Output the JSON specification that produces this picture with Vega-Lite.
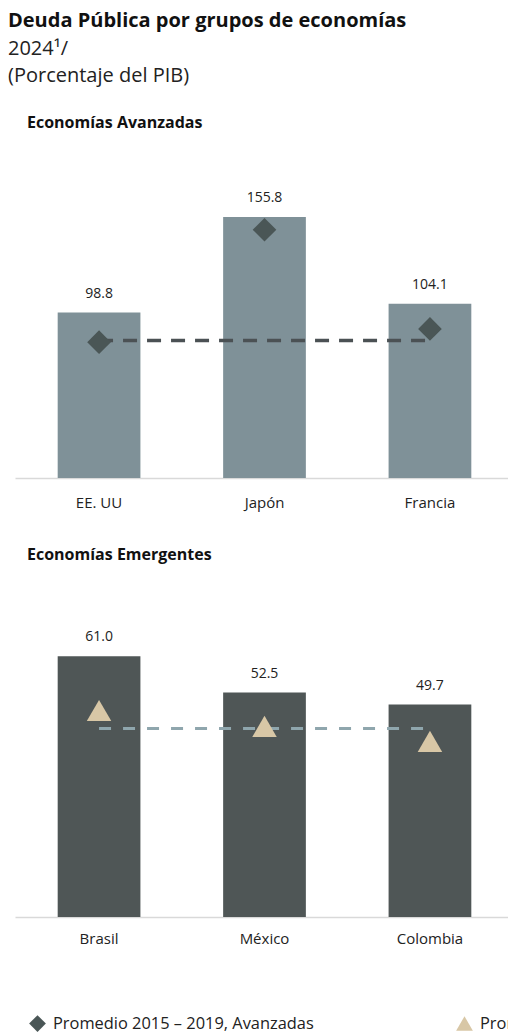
{
  "$schema": "https://vega.github.io/schema/vega-lite/v6.json",
  "background": "white",
  "padding": {"left": 8, "top": 11, "right": 0, "bottom": 2},
  "config": {
    "view": {"stroke": null},
    "font": "Open Sans",
    "axis": {"labelFont": "Open Sans"},
    "legend": {"labelFont": "Open Sans"}
  },
  "title": {
    "text": "Deuda Pública por grupos de economías",
    "subtitle": ["2024¹/", "(Porcentaje del PIB)"],
    "anchor": "start",
    "dx": -7,
    "font": "Open Sans",
    "fontSize": 20,
    "fontWeight": "bold",
    "color": "#111111",
    "subtitleFont": "Open Sans",
    "subtitleFontSize": 20,
    "subtitleColor": "#222222",
    "subtitleLineHeight": 27,
    "subtitlePadding": 8,
    "offset": 29
  },
  "spacing": 37,
  "resolve": {"scale": {"x": "independent", "y": "independent", "shape": "independent", "color": "independent"}},
  "vconcat": [
    {
      "width": 499,
      "height": 335,
      "title": {"text": "Economías Avanzadas", "anchor": "start", "dx": 12, "fontSize": 16, "fontWeight": "bold", "color": "#111111", "offset": 12},
      "data": {"values": [
        {"pais": "EE. UU", "deuda": 98.8, "promedio": 81.1, "linea": 82.1, "serie": "Promedio 2015 – 2019, Avanzadas"},
        {"pais": "Japón", "deuda": 155.8, "promedio": 148.2, "linea": 82.1, "serie": "Promedio 2015 – 2019, Avanzadas"},
        {"pais": "Francia", "deuda": 104.1, "promedio": 89.0, "linea": 82.1, "serie": "Promedio 2015 – 2019, Avanzadas"}
      ]},
      "encoding": {
        "x": {"field": "pais", "type": "nominal", "sort": null,
          "scale": {"paddingInner": 0.5, "paddingOuter": 0.258},
          "axis": {"title": null, "labelAngle": 0, "ticks": false, "domainColor": "#d9d9d9", "domainWidth": 1.5, "labelFontSize": 15, "labelColor": "#222222", "labelPadding": 17}}
      },
      "layer": [
        {"mark": {"type": "bar", "color": "#7f9198"},
         "encoding": {"y": {"field": "deuda", "type": "quantitative", "scale": {"domain": [0, 190]}, "axis": null}}},
        {"mark": {"type": "line", "color": "#4b5154", "strokeWidth": 3.5, "strokeDash": [14, 10]},
         "encoding": {"y": {"field": "linea", "type": "quantitative"}}},
        {"mark": {"type": "point", "filled": true, "opacity": 1, "size": 560},
         "encoding": {
           "y": {"field": "promedio", "type": "quantitative"},
           "shape": {"field": "serie", "type": "nominal", "scale": {"domain": ["Promedio 2015 – 2019, Avanzadas"], "range": ["diamond"]}, "legend": null},
           "color": {"field": "serie", "type": "nominal", "scale": {"domain": ["Promedio 2015 – 2019, Avanzadas"], "range": ["#4a5656"]}, "legend": null}
         }},
        {"mark": {"type": "text", "dy": -19, "baseline": "middle", "fontSize": 14, "color": "#222222"},
         "encoding": {"y": {"field": "deuda", "type": "quantitative"}, "text": {"field": "deuda", "type": "quantitative", "format": ".1f"}}}
      ]
    },
    {
      "width": 499,
      "height": 342,
      "title": {"text": "Economías Emergentes", "anchor": "start", "dx": 12, "fontSize": 16, "fontWeight": "bold", "color": "#111111", "offset": 12},
      "data": {"values": [
        {"pais": "Brasil", "deuda": 61.0, "promedio": 48.3, "linea": 44.1, "serie": "Promedio 2015 – 2019, Emergentes"},
        {"pais": "México", "deuda": 52.5, "promedio": 44.6, "linea": 44.1, "serie": "Promedio 2015 – 2019, Emergentes"},
        {"pais": "Colombia", "deuda": 49.7, "promedio": 41.1, "linea": 44.1, "serie": "Promedio 2015 – 2019, Emergentes"}
      ]},
      "encoding": {
        "x": {"field": "pais", "type": "nominal", "sort": null,
          "scale": {"paddingInner": 0.5, "paddingOuter": 0.258},
          "axis": {"title": null, "labelAngle": 0, "ticks": false, "domainColor": "#d9d9d9", "domainWidth": 1.5, "labelFontSize": 15, "labelColor": "#222222", "labelPadding": 14}}
      },
      "layer": [
        {"mark": {"type": "bar", "color": "#4f5656"},
         "encoding": {"y": {"field": "deuda", "type": "quantitative", "scale": {"domain": [0, 75]}, "axis": null}}},
        {"mark": {"type": "line", "color": "#8fa6ad", "strokeWidth": 3, "strokeDash": [12, 12]},
         "encoding": {"y": {"field": "linea", "type": "quantitative"}}},
        {"mark": {"type": "point", "filled": true, "opacity": 1, "size": 600},
         "encoding": {
           "y": {"field": "promedio", "type": "quantitative"},
           "shape": {"field": "serie", "type": "nominal",
             "scale": {"domain": ["Promedio 2015 – 2019, Avanzadas", "Promedio 2015 – 2019, Emergentes"], "range": ["diamond", "triangle-up"]},
             "legend": {"title": null, "orient": "bottom", "direction": "horizontal", "offset": 68, "symbolSize": 280, "symbolOffset": 13, "labelFontSize": 16.4, "labelColor": "#222222", "columnPadding": 128, "labelOffset": 6, "labelLimit": 400}},
           "color": {"field": "serie", "type": "nominal",
             "scale": {"domain": ["Promedio 2015 – 2019, Avanzadas", "Promedio 2015 – 2019, Emergentes"], "range": ["#4a5656", "#d8c7a6"]},
             "legend": {"title": null, "orient": "bottom", "direction": "horizontal", "offset": 68, "symbolSize": 280, "symbolOffset": 13, "labelFontSize": 16.4, "labelColor": "#222222", "columnPadding": 128, "labelOffset": 6, "labelLimit": 400}}
         }},
        {"mark": {"type": "text", "dy": -19, "baseline": "middle", "fontSize": 14, "color": "#222222"},
         "encoding": {"y": {"field": "deuda", "type": "quantitative"}, "text": {"field": "deuda", "type": "quantitative", "format": ".1f"}}}
      ]
    }
  ]
}
